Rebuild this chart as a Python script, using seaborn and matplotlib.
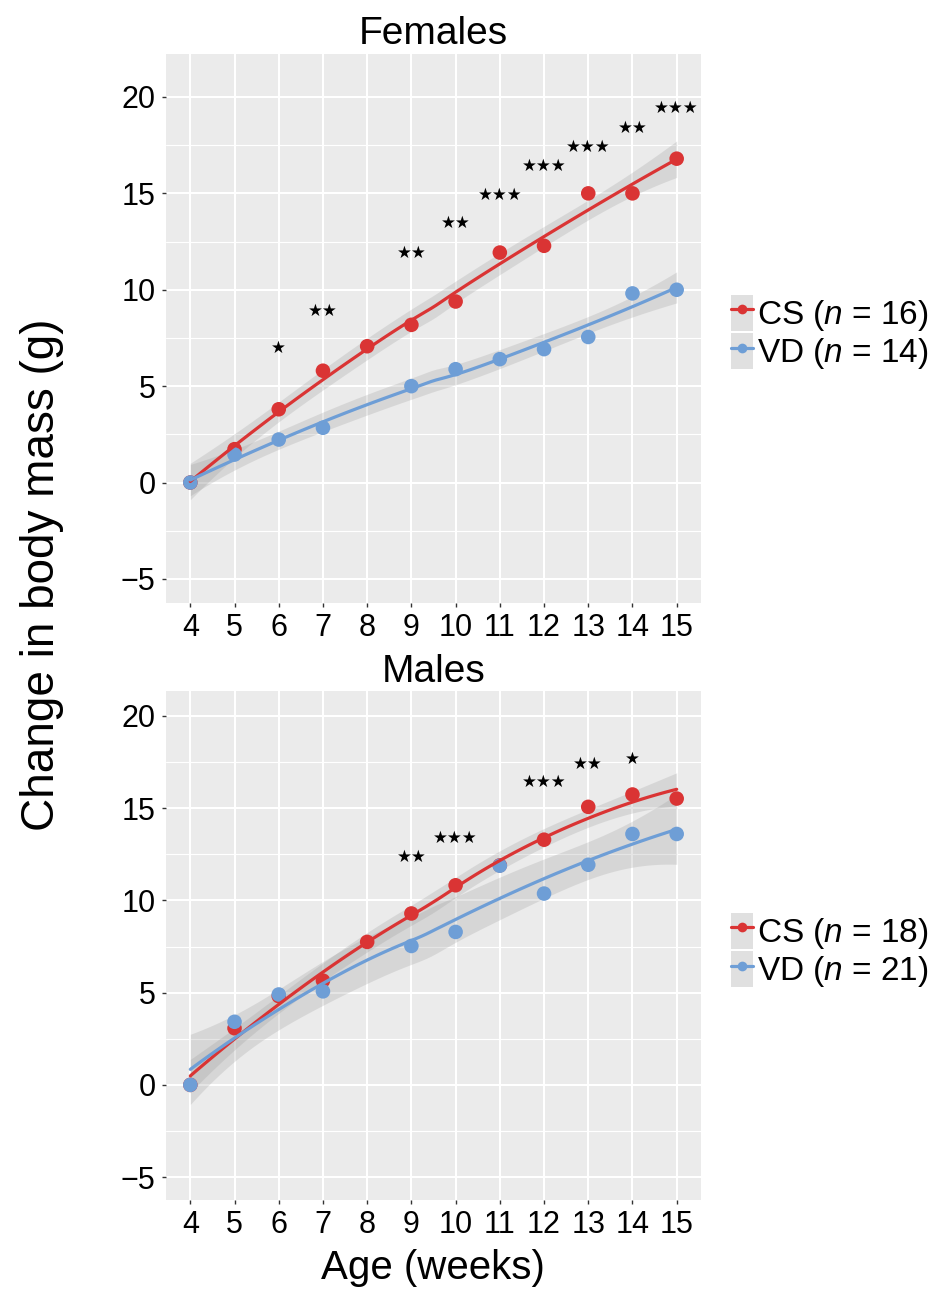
import numpy as np
import pandas as pd
import matplotlib
matplotlib.use("Agg")
import matplotlib.pyplot as plt
import seaborn as sns
from matplotlib.lines import Line2D
from matplotlib.patches import Patch
from matplotlib.legend_handler import HandlerTuple

# ---------------- data ----------------
weeks = [4, 5, 6, 7, 8, 9, 10, 11, 12, 13, 14, 15]
fem_cs = [0.0, 1.73, 3.80, 5.80, 7.07, 8.18, 9.39, 11.93, 12.28, 15.00, 15.00, 16.80]
fem_vd = [0.0, 1.45, 2.23, 2.84, np.nan, 5.00, 5.88, 6.40, 6.92, 7.55, 9.81, 10.00]
male_cs = [0.0, 3.07, 4.81, 5.65, 7.75, 9.29, 10.82, 11.90, 13.29, 15.07, 15.74, 15.52]
male_vd = [0.0, 3.42, 4.90, 5.07, np.nan, 7.53, 8.29, 11.88, 10.37, 11.93, 13.60, 13.60]

fem_star_x = [6, 7, 9, 10, 11, 12, 13, 14, 15]
fem_star_y = [6.96, 8.9, 11.9, 13.45, 14.9, 16.4, 17.4, 18.4, 19.45]
fem_star_lab = ["★", "★★", "★★", "★★", "★★★", "★★★", "★★★", "★★", "★★★"]
male_star_x = [9, 10, 12, 13, 14]
male_star_y = [12.38, 13.36, 16.4, 17.4, 17.65]
male_star_lab = ["★★", "★★★", "★★★", "★★", "★"]

fem_n = {"CS": 16, "VD": 14}
male_n = {"CS": 18, "VD": 21}

RED = "#DA3434"
BLUE = "#6E9ED6"
palette = {"CS": RED, "VD": BLUE}

# ---------------- loess (degree 2, like geom_smooth) ----------------
def tq(df):
    z = 1.959964
    g1 = (z**3 + z) / 4
    g2 = (5 * z**5 + 16 * z**3 + 3 * z) / 96
    g3 = (3 * z**7 + 19 * z**5 + 17 * z**3 - 15 * z) / 384
    return z + g1 / df + g2 / df**2 + g3 / df**3


def loess(x, y, grid, span=1.0):
    x = np.asarray(x, float)
    y = np.asarray(y, float)
    n = len(x)
    q = min(n, int(np.floor(n * span)))

    def row(x0):
        d = np.abs(x - x0)
        h = np.sort(d)[q - 1] * 1.0001
        w = np.clip(1 - (d / h) ** 3, 0, None) ** 3
        X = np.vstack([np.ones(n), x - x0, (x - x0) ** 2]).T
        XtW = X.T * w
        A = np.linalg.solve(XtW @ X, XtW)
        return A[0]

    Lf = np.array([row(v) for v in x])
    res = y - Lf @ y
    M = np.eye(n) - Lf
    R = M.T @ M
    d1 = np.trace(R)
    d2 = np.trace(R @ R)
    sigma = np.sqrt(np.sum(res**2) / d1)
    Lg = np.array([row(g) for g in grid])
    fit = Lg @ y
    se = sigma * np.sqrt((Lg**2).sum(1))
    t = tq(d1**2 / d2)
    return fit, fit - t * se, fit + t * se


# ---------------- style ----------------
sns.set_theme(style="darkgrid")
plt.rcParams["font.family"] = ["Liberation Sans", "DejaVu Sans"]
plt.rcParams["mathtext.fontset"] = "custom"
plt.rcParams["mathtext.rm"] = "Liberation Sans"
plt.rcParams["mathtext.it"] = "Liberation Sans:italic"
plt.rcParams["text.color"] = "black"

fig = plt.figure(figsize=(9.5, 12.9), dpi=100)
ax1 = fig.add_axes([166 / 950, 1 - 603 / 1290, 535 / 950, 549 / 1290])
ax2 = fig.add_axes([166 / 950, 1 - 1200 / 1290, 535 / 950, 509 / 1290])


def draw_panel(ax, cs, vd, sx, sy, slab, nmap, title, ylim, title_pad, leg_y):
    ax.set_facecolor("#EBEBEB")
    pts = []
    fits = []
    grid = np.linspace(min(weeks), max(weeks), 100)
    for grp, vals in (("CS", cs), ("VD", vd)):
        df = pd.DataFrame({"week": weeks, "change": vals}).dropna()
        df["group"] = grp
        pts.append(df)
        fit, lo, hi = loess(df["week"].values, df["change"].values, grid)
        fits.append(pd.DataFrame({"week": grid, "fit": fit, "lo": lo, "hi": hi, "group": grp}))
    pts = pd.concat(pts, ignore_index=True)
    fits = pd.concat(fits, ignore_index=True)

    for grp, d in fits.groupby("group"):
        ax.fill_between(d["week"], d["lo"], d["hi"], color="#9a9a9a", alpha=0.25,
                        linewidth=0, zorder=2)
    sns.scatterplot(data=pts, x="week", y="change", hue="group", palette=palette,
                    s=110, edgecolor="none", linewidth=0, legend=False, ax=ax, zorder=3)
    sns.lineplot(data=fits, x="week", y="fit", hue="group", palette=palette,
                 estimator=None, sort=True, linewidth=2.3, legend=False, ax=ax, zorder=4)

    for x, y, lab in zip(sx, sy, slab):
        ax.annotate(lab, xy=(x, y), xytext=(0, 0), textcoords="offset points",
                    ha="center", va="center", fontsize=12, color="black", zorder=5,
                    family="DejaVu Sans")

    ax.set_xlim(3.45, 15.55)
    ax.set_ylim(*ylim)
    ax.set_xticks(weeks)
    ax.set_xticklabels([str(w) for w in weeks])
    ax.set_yticks([-5, 0, 5, 10, 15, 20])
    ax.set_yticklabels(["\u22125", "0", "5", "10", "15", "20"])
    ax.set_yticks([-2.5, 2.5, 7.5, 12.5, 17.5], minor=True)
    ax.grid(which="major", color="white", linewidth=1.5)
    ax.grid(which="minor", axis="y", color="white", linewidth=0.8)
    ax.tick_params(which="major", length=3, width=1, color="#333333", pad=4.5,
                   labelsize=22, labelcolor="black", bottom=True, left=True)
    ax.tick_params(which="minor", length=0)
    for s in ax.spines.values():
        s.set_visible(False)
    ax.set_xlabel("")
    ax.set_ylabel("")
    ax.set_title(title, fontsize=28, pad=title_pad, color="black")

    handles = []
    labels = []
    for grp in ("CS", "VD"):
        handles.append((Patch(facecolor="#E0E0E0", edgecolor="none"),
                        Line2D([], [], color=palette[grp], lw=2.3, marker="o",
                               markersize=7, markeredgewidth=0)))
        labels.append(grp + r" ($\mathit{n}$ = " + str(nmap[grp]) + ")")
    ax.legend(handles, labels, handler_map={tuple: HandlerTuple(ndivide=1, pad=0)},
              loc="center left", bbox_to_anchor=(1.056, leg_y), frameon=False,
              fontsize=24, handlelength=0.65, handleheight=1.3, labelspacing=0.0,
              handletextpad=0.12, borderpad=0, borderaxespad=0)


draw_panel(ax1, fem_cs, fem_vd, fem_star_x, fem_star_y, fem_star_lab, fem_n,
           "Females", (-6.25, 22.23), 7, 0.492)
draw_panel(ax2, male_cs, male_vd, male_star_x, male_star_y, male_star_lab, male_n,
           "Males", (-6.24, 21.35), 6.5, 0.489)

fig.text(0.044, 1 - 575 / 1290, "Change in body mass (g)", rotation=90,
         fontsize=33, ha="center", va="center", color="black")
fig.text(433 / 950, 1 - 1268 / 1290, "Age (weeks)", fontsize=29,
         ha="center", va="center", color="black")

fig.savefig("out.png", dpi=100, facecolor="white")
